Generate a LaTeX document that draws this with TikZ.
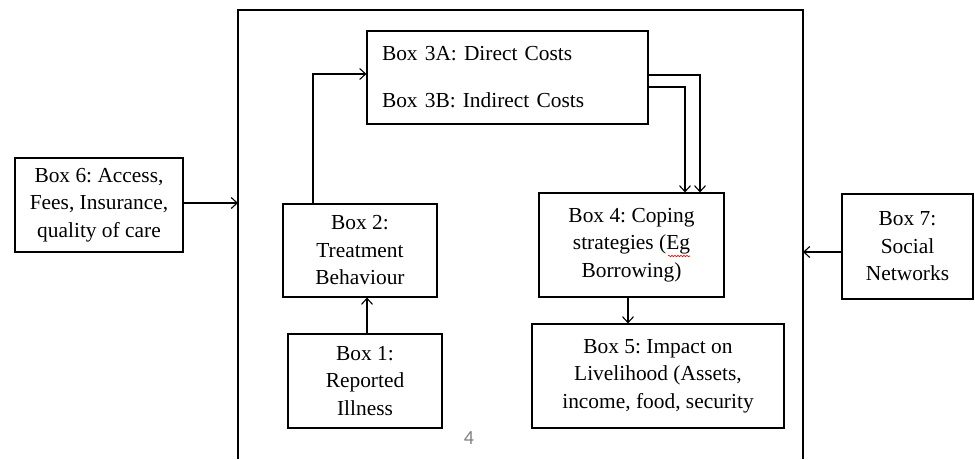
\documentclass[tikz,border=0pt]{standalone}
\usepackage{fontspec}
\setmainfont{Liberation Serif}
\newfontfamily\pagefont{Carlito}
\usetikzlibrary{arrows.meta,decorations.pathmorphing}
\frenchspacing
\begin{document}
\begin{tikzpicture}[x=1pt,y=-1pt,
  box/.style={draw, line width=1.1pt, inner sep=0pt, align=center,
    font=\fontsize{21.4}{27.5}\selectfont},
  arr/.style={line width=1.1pt, -{Straight Barb[length=6pt,width=11pt,line width=1.1pt]}},
  ln/.style={line width=1.1pt}]
\useasboundingbox (0,0) rectangle (975,459);
% frame
\draw[ln] (238,459) -- (238,10) -- (803,10) -- (803,459);
\coordinate (fl) at (238,203);
\coordinate (fr) at (803,252);
% boxes
\node[box, minimum width=281pt, minimum height=93pt, text width=251pt, inner xsep=15pt, align=left]
  (b3) at (507.5,77.5) {Box 3A: Direct Costs\\[19.5pt]Box 3B: Indirect Costs};
\node[box, minimum width=168pt, minimum height=94pt] (b6) at (99,205) {Box 6: Access,\\Fees, Insurance,\\quality of care};
\node[box, minimum width=154pt, minimum height=93pt] (b2) at (360,250.5) {Box 2:\\Treatment\\Behaviour};
\node[box, minimum width=154pt, minimum height=94pt] (b1) at (365,381) {Box 1:\\Reported\\Illness};
\node[box, minimum width=185pt, minimum height=104pt] (b4) at (631.5,245) {Box 4: Coping\\strategies (Eg\\Borrowing)};
\node[box, minimum width=252pt, minimum height=104pt] (b5) at (658,376) {Box 5: Impact on\\Livelihood (Assets,\\income, food, security};
\node[box, minimum width=131pt, minimum height=105pt] (b7) at (907.5,246.5) {Box 7:\\Social\\Networks};
\node[text=black!50, font=\pagefont\fontsize{20}{24}\selectfont, inner sep=0pt] (pnum) at (469,438) {4};
% spell-check squiggle
\draw[red, line width=0.6pt, decorate, decoration={snake, amplitude=0.8pt, segment length=3pt}] (668,256) -- (690,256);
% connectors
\draw[arr] (b1.north -| 367,0) -- (b2.south -| 367,0);
\draw[arr] (b2.north -| 313,0) |- (b3.west |- 0,74);
\draw[arr] (b3.east |- 0,75) -| (b4.north -| 700,0);
\draw[arr] (b3.east |- 0,87) -| (b4.north -| 685,0);
\draw[arr] (b4.south -| 628,0) -- (b5.north -| 628,0);
\draw[arr] (b6.east |- fl) -- (fl);
\draw[arr] (b7.west |- fr) -- (fr);
\end{tikzpicture}
\end{document}
